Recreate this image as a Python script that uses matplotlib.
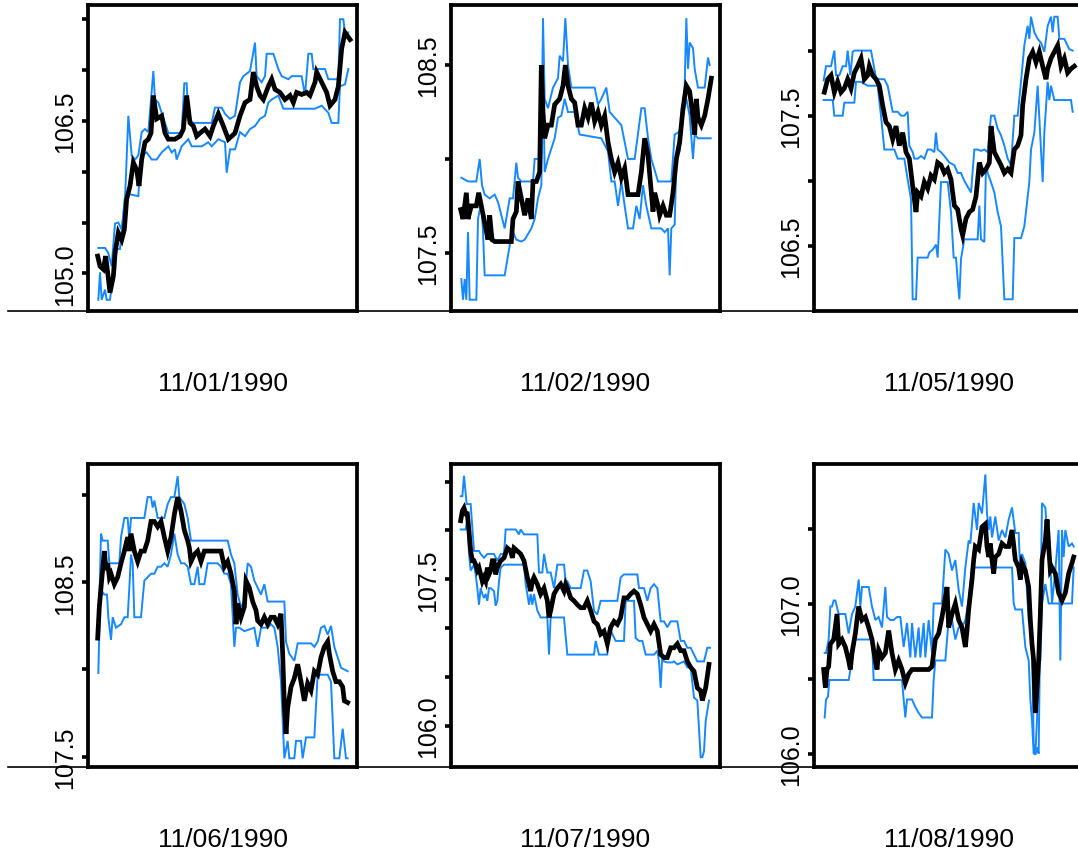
import matplotlib
matplotlib.use("Agg")
import matplotlib.pyplot as plt
from matplotlib.lines import Line2D

plt.rcParams["font.family"] = ["Liberation Sans", "DejaVu Sans"]

# one panel per trading day: black = mid quote, blue = the two dealer quote paths
# each series is a list of (observation index, price)
dates = ["11/01/1990", "11/02/1990", "11/05/1990",
         "11/06/1990", "11/07/1990", "11/08/1990"]

p1_mid = [(0, 105.17), (7, 105.07), (17, 105.04), (24, 105.17), (30, 105.01), (37, 104.81), (47, 104.97),
          (52, 105.20), (62, 105.40), (72, 105.33), (80, 105.43), (87, 105.73), (97, 105.86), (107, 106.09),
          (117, 106.02), (124, 105.86), (132, 106.12), (142, 106.29), (152, 106.32), (160, 106.38), (167, 106.75),
          (177, 106.52), (192, 106.55), (202, 106.38), (212, 106.32), (232, 106.32), (247, 106.35), (257, 106.42),
          (267, 106.75), (277, 106.48), (287, 106.45), (297, 106.35), (307, 106.38), (322, 106.42), (337, 106.35),
          (347, 106.45), (362, 106.57), (377, 106.45), (392, 106.32), (412, 106.38), (427, 106.55), (442, 106.68),
          (457, 106.71), (467, 106.98), (477, 106.84), (487, 106.75), (497, 106.71), (512, 106.84), (522, 106.91),
          (532, 106.81), (547, 106.78), (562, 106.71), (577, 106.75), (587, 106.68), (597, 106.78), (612, 106.76),
          (627, 106.78), (637, 106.75), (652, 106.88), (657, 106.98), (672, 106.88), (687, 106.78), (697, 106.65),
          (712, 106.71), (722, 106.84), (732, 107.21), (742, 107.37), (757, 107.30)]
p1_hi = [(2, 105.25), (22, 105.25), (32, 105.20), (42, 105.07), (52, 105.49), (62, 105.50), (72, 105.43),
         (82, 105.73), (92, 106.55), (102, 106.16), (112, 106.12), (122, 106.16), (132, 106.39), (142, 106.42),
         (152, 106.39), (167, 106.99), (172, 106.71), (182, 106.68), (202, 106.48), (212, 106.38), (252, 106.38),
         (260, 106.87), (267, 106.87), (272, 106.52), (287, 106.48), (302, 106.48), (317, 106.48), (342, 106.48),
         (352, 106.63), (372, 106.63), (382, 106.57), (397, 106.52), (412, 106.55), (427, 106.88), (437, 106.94),
         (457, 106.99), (472, 107.27), (477, 106.94), (492, 106.88), (502, 106.94), (507, 107.16), (527, 107.16),
         (542, 107.01), (552, 106.94), (572, 106.91), (582, 106.94), (612, 106.94), (622, 106.75), (632, 107.16),
         (642, 107.16), (647, 107.01), (682, 107.01), (692, 106.91), (722, 106.91), (727, 107.50), (737, 107.50),
         (742, 107.37), (752, 107.37)]
p1_lo = [(2, 104.74), (7, 105.01), (12, 104.74), (22, 104.84), (27, 104.74), (37, 104.74), (42, 104.88),
         (52, 105.01), (57, 105.24), (67, 105.24), (72, 105.40), (82, 105.76), (92, 105.78), (122, 105.76),
         (127, 106.02), (132, 106.16), (147, 106.19), (162, 106.12), (177, 106.12), (192, 106.19), (212, 106.25),
         (222, 106.19), (232, 106.22), (237, 106.12), (252, 106.25), (272, 106.32), (282, 106.25), (312, 106.25),
         (332, 106.29), (342, 106.25), (362, 106.32), (382, 106.29), (387, 105.99), (397, 106.22), (412, 106.22),
         (427, 106.39), (442, 106.35), (457, 106.42), (472, 106.45), (487, 106.52), (502, 106.55), (512, 106.68),
         (522, 106.71), (542, 106.75), (557, 106.62), (652, 106.62), (672, 106.65), (692, 106.58), (702, 106.48),
         (722, 106.48), (727, 106.84), (742, 106.86), (752, 107.01)]

p2_mid = [(0, 107.73), (7, 107.68), (17, 107.82), (22, 107.68), (32, 107.75), (47, 107.75), (54, 107.82),
          (62, 107.75), (72, 107.66), (82, 107.57), (87, 107.70), (94, 107.57), (102, 107.56), (152, 107.56),
          (157, 107.68), (167, 107.72), (172, 107.88), (182, 107.79), (192, 107.70), (202, 107.79), (212, 107.68),
          (217, 107.88), (227, 107.88), (237, 107.93), (242, 108.50), (247, 108.25), (252, 108.11), (262, 108.18),
          (272, 108.18), (282, 108.29), (297, 108.32), (307, 108.39), (314, 108.50), (322, 108.39), (332, 108.32),
          (342, 108.30), (352, 108.18), (362, 108.18), (372, 108.27), (382, 108.22), (392, 108.30), (402, 108.20),
          (412, 108.25), (422, 108.18), (432, 108.23), (442, 108.09), (452, 108.00), (462, 107.93), (472, 107.98),
          (482, 107.90), (492, 107.95), (502, 107.81), (532, 107.81), (542, 107.93), (552, 108.11), (562, 108.02),
          (572, 107.82), (577, 107.72), (582, 107.82), (592, 107.75), (597, 107.70), (607, 107.75), (617, 107.70),
          (627, 107.70), (637, 107.82), (647, 108.00), (657, 108.09), (667, 108.27), (677, 108.39), (687, 108.36),
          (697, 108.22), (702, 108.13), (707, 108.32), (712, 108.22), (722, 108.18), (732, 108.23), (742, 108.32),
          (752, 108.43)]
p2_hi = [(2, 107.90), (22, 107.88), (47, 107.88), (57, 108.00), (64, 107.86), (72, 107.81), (87, 107.79),
         (102, 107.81), (112, 107.77), (122, 107.70), (132, 107.63), (147, 107.79), (157, 107.79), (167, 107.98),
         (172, 107.90), (182, 107.88), (217, 107.88), (222, 108.00), (242, 108.00), (247, 108.75), (252, 108.32),
         (262, 108.27), (277, 108.38), (292, 108.43), (297, 108.55), (307, 108.52), (314, 108.75), (322, 108.50),
         (332, 108.38), (402, 108.38), (412, 108.29), (422, 108.32), (437, 108.38), (447, 108.25), (462, 108.22),
         (482, 108.18), (502, 108.00), (522, 108.00), (542, 108.27), (552, 108.27), (562, 108.11), (572, 108.00),
         (592, 107.88), (632, 107.88), (642, 108.13), (652, 108.14), (662, 108.16), (672, 108.39), (677, 108.75),
         (682, 108.48), (687, 108.62), (697, 108.59), (702, 108.48), (712, 108.38), (732, 108.38), (742, 108.54),
         (747, 108.50)]
p2_lo = [(2, 107.36), (7, 107.25), (12, 107.36), (17, 107.25), (22, 107.61), (27, 107.25), (47, 107.25),
         (52, 107.68), (62, 107.77), (67, 107.61), (72, 107.38), (132, 107.38), (152, 107.59), (157, 107.61),
         (167, 107.57), (182, 107.56), (192, 107.57), (212, 107.63), (222, 107.68), (232, 107.79), (242, 107.86),
         (247, 108.50), (252, 107.93), (262, 108.00), (282, 108.11), (292, 108.22), (302, 108.23), (312, 108.32),
         (322, 108.25), (342, 108.25), (357, 108.13), (422, 108.11), (442, 108.04), (452, 107.88), (462, 107.88),
         (472, 107.75), (482, 107.88), (492, 107.75), (502, 107.63), (517, 107.63), (527, 107.75), (537, 107.68),
         (547, 107.86), (557, 107.75), (572, 107.63), (602, 107.63), (612, 107.61), (622, 107.63), (627, 107.38),
         (632, 107.63), (642, 107.65), (647, 108.00), (657, 108.04), (667, 108.23), (677, 108.32), (687, 108.23),
         (697, 108.00), (702, 108.13), (712, 108.11), (750, 108.11)]

p3_mid = [(2, 107.68), (12, 107.78), (22, 107.81), (32, 107.68), (42, 107.76), (52, 107.68), (62, 107.71),
          (72, 107.78), (82, 107.71), (92, 107.83), (102, 107.88), (112, 107.94), (122, 107.78), (132, 107.81),
          (137, 107.88), (147, 107.81), (157, 107.78), (167, 107.73), (177, 107.58), (187, 107.45), (197, 107.42),
          (207, 107.32), (217, 107.42), (227, 107.27), (237, 107.37), (247, 107.22), (257, 107.17), (267, 106.96),
          (277, 106.76), (282, 106.91), (292, 106.88), (302, 106.99), (312, 106.94), (322, 107.04), (332, 107.01),
          (342, 107.14), (352, 107.12), (362, 107.06), (372, 107.09), (382, 107.01), (392, 106.81), (402, 106.78),
          (412, 106.63), (417, 106.58), (427, 106.71), (437, 106.76), (447, 106.78), (457, 106.88), (467, 107.14),
          (477, 107.06), (487, 107.09), (497, 107.14), (502, 107.42), (512, 107.22), (522, 107.17), (532, 107.12),
          (542, 107.06), (552, 107.09), (562, 107.06), (572, 107.24), (582, 107.27), (592, 107.35), (597, 107.58),
          (607, 107.78), (617, 107.94), (627, 107.99), (637, 107.91), (647, 107.99), (657, 107.88), (667, 107.78),
          (672, 107.86), (682, 107.94), (692, 107.99), (702, 108.04), (712, 107.88), (722, 107.94), (732, 107.83),
          (742, 107.86), (752, 107.88)]
p3_hi = [(0, 107.77), (7, 107.88), (22, 107.88), (32, 108.00), (37, 107.81), (47, 107.81), (57, 107.88),
         (67, 107.88), (72, 108.00), (80, 107.81), (87, 107.99), (92, 108.00), (142, 108.00), (157, 107.79),
         (167, 107.78), (182, 107.78), (192, 107.73), (207, 107.53), (222, 107.53), (232, 107.50), (242, 107.50),
         (252, 107.53), (257, 107.27), (267, 107.22), (272, 107.17), (282, 107.17), (292, 107.19), (302, 107.17),
         (312, 107.24), (322, 107.24), (332, 107.22), (337, 107.37), (342, 107.24), (352, 107.22), (362, 107.19),
         (377, 107.14), (392, 107.12), (402, 107.06), (412, 107.06), (422, 107.00), (442, 106.91), (452, 107.24),
         (462, 107.24), (472, 107.23), (482, 107.24), (492, 107.22), (502, 107.50), (512, 107.50), (522, 107.40),
         (532, 107.35), (542, 107.27), (552, 107.17), (562, 107.12), (572, 107.50), (582, 107.50), (592, 107.76),
         (602, 108.04), (612, 108.19), (617, 108.09), (622, 108.26), (632, 108.14), (642, 108.09), (652, 108.06),
         (662, 107.99), (672, 108.19), (682, 108.26), (687, 108.14), (692, 108.26), (702, 108.26), (707, 108.09),
         (722, 108.09), (737, 108.01), (747, 108.00)]
p3_lo = [(0, 107.62), (27, 107.62), (32, 107.50), (57, 107.50), (62, 107.60), (92, 107.60), (97, 107.76),
         (112, 107.76), (132, 107.73), (162, 107.73), (172, 107.50), (182, 107.24), (212, 107.24), (222, 107.17),
         (242, 107.17), (252, 107.01), (262, 106.86), (267, 106.09), (277, 106.09), (282, 106.41), (312, 106.41),
         (317, 106.45), (327, 106.47), (337, 106.51), (342, 106.41), (352, 106.99), (372, 106.99), (382, 106.76),
         (390, 106.41), (397, 106.41), (402, 106.24), (407, 106.09), (412, 106.40), (422, 106.55), (462, 106.55),
         (467, 106.81), (472, 106.55), (482, 106.53), (487, 107.12), (492, 107.06), (502, 106.99), (512, 106.91),
         (522, 106.76), (532, 106.65), (542, 106.09), (567, 106.09), (572, 106.56), (592, 106.56), (602, 106.65),
         (617, 106.99), (622, 107.24), (632, 107.37), (642, 107.73), (657, 106.99), (662, 107.37), (672, 107.76),
         (677, 107.62), (682, 107.73), (692, 107.62), (742, 107.62), (747, 107.53)]

p4_mid = [(0, 108.18), (5, 108.36), (10, 108.47), (20, 108.68), (25, 108.57), (30, 108.61), (35, 108.53),
          (40, 108.55), (50, 108.49), (60, 108.53), (70, 108.61), (80, 108.68), (90, 108.76), (95, 108.68),
          (100, 108.78), (110, 108.68), (120, 108.62), (130, 108.68), (140, 108.68), (150, 108.74), (160, 108.85),
          (170, 108.85), (180, 108.82), (190, 108.85), (200, 108.76), (210, 108.68), (220, 108.76), (230, 108.89),
          (240, 108.99), (250, 108.91), (260, 108.80), (270, 108.74), (275, 108.70), (280, 108.62), (290, 108.66),
          (300, 108.68), (310, 108.62), (320, 108.68), (370, 108.68), (380, 108.59), (390, 108.62), (400, 108.55),
          (410, 108.45), (415, 108.26), (420, 108.38), (430, 108.30), (440, 108.36), (445, 108.51), (455, 108.47),
          (465, 108.39), (475, 108.34), (480, 108.28), (490, 108.26), (500, 108.30), (510, 108.26), (520, 108.30),
          (530, 108.30), (540, 108.26), (550, 108.32), (555, 108.09), (560, 107.80), (565, 107.63), (570, 107.78),
          (580, 107.90), (590, 107.95), (600, 108.03), (610, 107.93), (620, 107.82), (630, 107.92), (640, 107.88),
          (650, 107.99), (660, 107.97), (670, 108.07), (680, 108.13), (690, 108.16), (695, 108.09), (705, 107.99),
          (715, 107.93), (725, 107.93), (735, 107.90), (740, 107.82), (750, 107.81)]
p4_hi = [(5, 108.38), (10, 108.78), (15, 108.74), (30, 108.74), (35, 108.61), (65, 108.61), (70, 108.76),
         (80, 108.87), (90, 108.87), (95, 108.74), (100, 108.87), (140, 108.87), (150, 108.99), (160, 108.99),
         (165, 108.93), (170, 108.97), (180, 108.87), (200, 108.87), (210, 108.95), (220, 108.99), (230, 108.99),
         (240, 109.11), (245, 108.99), (260, 108.95), (270, 108.87), (280, 108.74), (390, 108.74), (400, 108.66),
         (410, 108.61), (420, 108.43), (430, 108.36), (440, 108.39), (450, 108.61), (460, 108.59), (470, 108.51),
         (480, 108.47), (490, 108.43), (500, 108.49), (510, 108.39), (560, 108.39), (565, 108.16), (575, 108.09),
         (590, 108.05), (600, 108.15), (640, 108.15), (650, 108.13), (660, 108.16), (670, 108.24), (680, 108.25),
         (690, 108.20), (700, 108.25), (710, 108.13), (720, 108.07), (730, 108.01), (740, 108.00), (750, 107.99)]
p4_lo = [(2, 107.98), (7, 108.38), (13, 108.45), (20, 108.43), (28, 108.43), (32, 108.30), (40, 108.17),
         (45, 108.30), (55, 108.24), (70, 108.26), (80, 108.30), (90, 108.30), (95, 108.47), (100, 108.66),
         (105, 108.61), (110, 108.30), (130, 108.30), (140, 108.51), (150, 108.53), (160, 108.55), (170, 108.55),
         (180, 108.59), (190, 108.59), (200, 108.61), (210, 108.59), (220, 108.66), (230, 108.78), (240, 108.66),
         (250, 108.61), (260, 108.61), (270, 108.59), (280, 108.49), (290, 108.49), (300, 108.59), (305, 108.49),
         (320, 108.49), (330, 108.61), (360, 108.61), (370, 108.59), (380, 108.55), (390, 108.55), (400, 108.49),
         (410, 108.13), (415, 108.24), (425, 108.24), (440, 108.22), (470, 108.24), (480, 108.13), (490, 108.24),
         (510, 108.24), (520, 108.26), (530, 108.24), (540, 108.13), (550, 107.93), (560, 107.49), (570, 107.59),
         (575, 107.49), (590, 107.49), (595, 107.59), (610, 107.59), (615, 107.49), (625, 107.61), (650, 107.61),
         (660, 107.97), (690, 107.97), (700, 107.93), (710, 107.49), (725, 107.49), (735, 107.66), (745, 107.49),
         (750, 107.49)]

p5_mid = [(0, 108.10), (5, 108.20), (10, 108.23), (15, 108.17), (20, 108.17), (25, 107.99), (30, 107.79),
          (35, 107.69), (40, 107.69), (45, 107.65), (50, 107.59), (55, 107.62), (60, 107.55), (65, 107.48),
          (70, 107.52), (75, 107.48), (80, 107.62), (85, 107.55), (90, 107.59), (95, 107.69), (100, 107.69),
          (105, 107.55), (110, 107.62), (120, 107.69), (130, 107.72), (140, 107.82), (150, 107.79), (155, 107.72),
          (160, 107.82), (170, 107.79), (180, 107.76), (190, 107.69), (200, 107.52), (210, 107.38), (215, 107.48),
          (220, 107.52), (230, 107.45), (240, 107.35), (250, 107.41), (260, 107.28), (265, 107.11), (270, 107.18),
          (280, 107.35), (290, 107.41), (300, 107.45), (310, 107.38), (315, 107.45), (320, 107.41), (330, 107.31),
          (340, 107.28), (350, 107.24), (360, 107.21), (370, 107.21), (380, 107.28), (390, 107.18), (400, 107.07),
          (410, 107.04), (420, 106.94), (430, 106.97), (440, 106.84), (450, 107.01), (460, 107.07), (470, 107.04),
          (480, 107.11), (490, 107.31), (500, 107.31), (510, 107.35), (520, 107.38), (530, 107.35), (540, 107.24),
          (550, 107.11), (560, 107.04), (570, 106.97), (580, 107.04), (590, 106.97), (600, 106.73), (610, 106.70),
          (620, 106.70), (630, 106.80), (640, 106.80), (650, 106.84), (660, 106.77), (670, 106.77), (680, 106.66),
          (690, 106.60), (700, 106.56), (710, 106.39), (720, 106.36), (725, 106.26), (735, 106.39), (745, 106.63)]
p5_hi = [(0, 108.35), (5, 108.35), (10, 108.56), (18, 108.27), (30, 108.27), (40, 107.79), (55, 107.79),
         (60, 107.76), (70, 107.72), (80, 107.76), (100, 107.76), (110, 107.69), (120, 107.76), (130, 107.76),
         (135, 108.01), (165, 108.01), (175, 107.96), (180, 108.01), (190, 107.96), (230, 107.96), (235, 107.57),
         (245, 107.57), (250, 107.76), (260, 107.57), (270, 107.57), (280, 107.41), (290, 107.65), (310, 107.65),
         (315, 107.48), (320, 107.48), (330, 107.41), (360, 107.41), (370, 107.59), (380, 107.59), (390, 107.48),
         (400, 107.18), (410, 107.14), (420, 107.28), (470, 107.28), (480, 107.52), (490, 107.55), (530, 107.55),
         (535, 107.41), (550, 107.41), (560, 107.28), (570, 107.41), (580, 107.45), (590, 107.41), (600, 107.07),
         (610, 107.07), (620, 107.01), (630, 107.07), (650, 107.07), (660, 106.87), (670, 106.87), (680, 106.80),
         (690, 106.80), (700, 106.73), (710, 106.66), (730, 106.66), (740, 106.80), (748, 106.80)]
p5_lo = [(0, 108.01), (15, 108.01), (20, 108.11), (25, 107.76), (30, 107.59), (40, 107.65), (45, 107.55),
         (50, 107.41), (55, 107.24), (60, 107.41), (65, 107.35), (70, 107.31), (75, 107.35), (80, 107.28),
         (85, 107.41), (90, 107.41), (100, 107.38), (105, 107.23), (110, 107.28), (115, 107.48), (120, 107.62),
         (130, 107.65), (190, 107.65), (195, 107.45), (200, 107.35), (205, 107.24), (210, 107.35), (215, 107.24),
         (220, 107.35), (230, 107.18), (240, 107.11), (260, 107.11), (265, 106.73), (270, 107.11), (310, 107.11),
         (320, 106.73), (400, 106.73), (405, 106.87), (415, 106.73), (440, 106.73), (445, 107.01), (455, 106.94),
         (465, 106.87), (490, 106.87), (495, 107.28), (520, 107.28), (525, 106.90), (535, 106.87), (545, 106.87),
         (555, 106.73), (580, 106.73), (590, 106.77), (595, 106.66), (600, 106.39), (605, 106.73), (610, 106.66),
         (620, 106.65), (635, 106.65), (640, 106.66), (650, 106.63), (670, 106.66), (680, 106.60), (690, 106.60),
         (700, 106.29), (710, 106.26), (720, 105.68), (725, 105.68), (730, 105.74), (735, 106.05), (745, 106.26)]

p6_mid = [(0, 106.56), (5, 106.44), (10, 106.56), (15, 106.58), (20, 106.73), (30, 106.76), (40, 106.93),
          (45, 106.73), (55, 106.76), (65, 106.71), (75, 106.62), (80, 106.56), (85, 106.67), (95, 106.80),
          (105, 106.98), (115, 106.89), (125, 106.91), (135, 106.84), (145, 106.76), (155, 106.62), (160, 106.56),
          (165, 106.69), (175, 106.64), (185, 106.67), (195, 106.82), (205, 106.67), (215, 106.56), (225, 106.62),
          (235, 106.56), (245, 106.47), (255, 106.53), (265, 106.56), (315, 106.56), (325, 106.58), (335, 106.76),
          (345, 106.80), (355, 106.91), (365, 107.04), (370, 107.11), (375, 106.84), (385, 106.93), (395, 107.00),
          (405, 106.89), (415, 106.84), (425, 106.71), (430, 106.82), (435, 106.96), (445, 107.16), (450, 107.29),
          (455, 107.38), (465, 107.36), (475, 107.51), (485, 107.53), (490, 107.38), (495, 107.31), (500, 107.40),
          (505, 107.29), (510, 107.20), (515, 107.31), (525, 107.33), (535, 107.40), (545, 107.38), (555, 107.38),
          (565, 107.49), (575, 107.29), (585, 107.24), (590, 107.16), (595, 107.27), (605, 107.22), (615, 107.11),
          (620, 106.89), (625, 106.73), (630, 106.62), (635, 106.27), (640, 106.44), (645, 106.62), (650, 106.93),
          (655, 107.29), (665, 107.42), (670, 107.56), (675, 107.38), (680, 107.22), (685, 107.24), (695, 107.20),
          (705, 107.07), (715, 107.02), (725, 107.07), (735, 107.20), (745, 107.27), (750, 107.31)]
p6_hi = [(3, 106.67), (7, 106.67), (15, 106.76), (20, 106.98), (25, 106.98), (30, 107.02), (35, 107.02),
         (45, 106.93), (65, 106.93), (75, 106.80), (85, 106.93), (95, 106.98), (105, 107.16), (110, 106.98),
         (115, 107.11), (135, 107.11), (145, 106.98), (155, 106.89), (165, 106.91), (175, 106.84), (185, 107.11),
         (190, 106.91), (200, 106.89), (210, 106.89), (220, 106.91), (230, 106.91), (240, 106.71), (250, 106.87),
         (260, 106.64), (265, 106.87), (275, 106.64), (285, 106.84), (290, 106.64), (300, 106.87), (305, 106.64),
         (315, 106.89), (325, 106.67), (330, 107.00), (355, 107.00), (365, 107.36), (375, 107.33), (385, 107.22),
         (395, 107.29), (405, 107.09), (415, 106.98), (425, 107.24), (435, 107.42), (440, 107.40), (445, 107.53),
         (450, 107.67), (460, 107.49), (465, 107.67), (475, 107.60), (480, 107.73), (485, 107.86), (490, 107.60),
         (495, 107.49), (500, 107.58), (505, 107.44), (515, 107.58), (525, 107.42), (535, 107.49), (545, 107.44),
         (555, 107.56), (565, 107.64), (575, 107.47), (585, 107.47), (590, 107.20), (595, 107.33), (605, 107.27),
         (615, 106.89), (625, 106.76), (630, 106.07), (635, 105.99), (640, 106.04), (645, 106.00), (650, 106.93),
         (655, 107.67), (665, 107.64), (670, 107.49), (675, 107.56), (685, 107.00), (695, 107.22), (705, 107.49),
         (710, 106.62), (715, 107.49), (720, 107.31), (725, 107.49), (735, 107.38), (745, 107.40), (750, 107.38)]
p6_lo = [(3, 106.24), (7, 106.36), (13, 106.38), (17, 106.49), (75, 106.49), (85, 106.62), (95, 106.76),
         (145, 106.76), (150, 106.49), (235, 106.49), (240, 106.36), (245, 106.24), (250, 106.36), (265, 106.36),
         (275, 106.31), (285, 106.27), (295, 106.24), (325, 106.24), (330, 106.49), (335, 106.62), (365, 106.62),
         (375, 106.89), (385, 106.89), (395, 106.76), (405, 106.84), (415, 106.84), (425, 106.89), (435, 107.02),
         (445, 107.24), (565, 107.24), (570, 107.00), (575, 106.96), (595, 106.96), (605, 106.71), (615, 106.62),
         (620, 106.36), (625, 106.22), (630, 106.00), (635, 106.00), (640, 106.22), (645, 106.60), (650, 106.62),
         (655, 107.00), (665, 107.13), (675, 107.00), (745, 107.00), (750, 107.24)]

mids = [p1_mid, p2_mid, p3_mid, p4_mid, p5_mid, p6_mid]
highs = [p1_hi, p2_hi, p3_hi, p4_hi, p5_hi, p6_hi]
lows = [p1_lo, p2_lo, p3_lo, p4_lo, p5_lo, p6_lo]

y_limits = [(104.63, 107.64), (107.19, 108.82), (106.0, 108.35),
            (107.44, 109.18), (105.58, 108.68), (105.91, 107.93)]
y_ticks = [[105.0, 105.5, 106.0, 106.5, 107.0, 107.5],
           [107.5, 108.0, 108.5],
           [106.5, 107.0, 107.5, 108.0],
           [107.5, 108.0, 108.5, 109.0],
           [106.0, 106.5, 107.0, 107.5, 108.0, 108.5],
           [106.0, 106.5, 107.0, 107.5]]
y_labelled = [[105.0, 106.5], [107.5, 108.5], [106.5, 107.5],
              [107.5, 108.5], [106.0, 107.5], [106.0, 107.0]]

W, H = 1078, 854
fig = plt.figure(figsize=(W / 100, H / 100), dpi=100)

lefts = [88, 451, 814]
rows = [(6, 312), (465, 768)]
panel_w = 269
blue = "#1788FF"

for i in range(6):
    r, c = divmod(i, 3)
    top, bot = rows[r]
    ax = fig.add_axes([lefts[c] / W, 1 - bot / H, panel_w / W, (bot - top) / H])
    for series, col, lw, z in [(highs[i], blue, 1.4, 2),
                               (lows[i], blue, 1.4, 2),
                               (mids[i], "black", 3.4, 3)]:
        t = [p[0] for p in series]
        v = [p[1] for p in series]
        ax.plot(t, v, color=col, lw=lw, zorder=z, solid_joinstyle="miter")
    ax.set_xlim(-29, 778)
    ax.set_ylim(*y_limits[i])
    ax.set_xticks([])
    ax.set_yticks(y_ticks[i])
    ax.set_yticklabels([f"{v:.1f}" if v in y_labelled[i] else "" for v in y_ticks[i]],
                       rotation=90, va="center", fontsize=18)
    ax.tick_params(axis="y", direction="out", length=4, width=2.6, pad=4)
    for s in ax.spines.values():
        s.set_linewidth(2.7)
    fig.text((lefts[c] + panel_w / 2) / W, 1 - (bot + 72) / H, dates[i],
             ha="center", va="center", fontsize=19)

# thin baseline running across each row
for top, bot in rows:
    fig.add_artist(Line2D([8 / W, 1], [1 - bot / H] * 2, color="black", lw=1.2,
                          transform=fig.transFigure, zorder=0))

plt.savefig("out.png", dpi=100)
